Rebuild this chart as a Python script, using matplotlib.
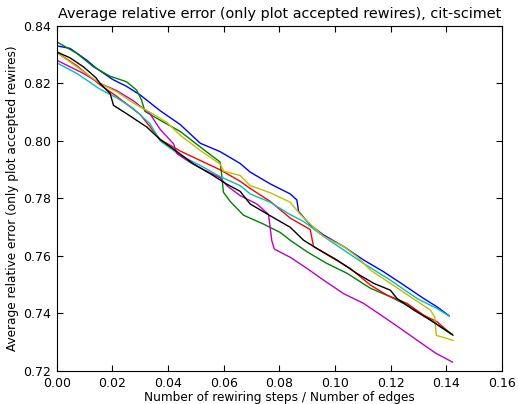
import matplotlib

matplotlib.use("Agg")
import matplotlib.pyplot as plt
from matplotlib.ticker import FormatStrFormatter

# readings from the reference (x = rewiring steps / edges, y = avg relative error)
blue_x = [0.0, 0.0048, 0.0108, 0.0141, 0.0201, 0.0251, 0.0300, 0.0372, 0.0444, 0.0516,
          0.0587, 0.0659, 0.0695, 0.0767, 0.0839, 0.0863, 0.0869, 0.0911, 0.0959, 0.1031,
          0.1103, 0.1175, 0.1247, 0.1319, 0.1367, 0.141]
blue_y = [0.8331, 0.8322, 0.8281, 0.8254, 0.8214, 0.8190, 0.8160, 0.8105, 0.8057, 0.7992,
          0.7963, 0.7922, 0.7892, 0.7851, 0.7816, 0.7795, 0.7755, 0.7708, 0.7673, 0.7633,
          0.7586, 0.7545, 0.7499, 0.7452, 0.7423, 0.7392]

green_x = [0.0, 0.0072, 0.0132, 0.0192, 0.0251, 0.0287, 0.0305, 0.0317, 0.0372, 0.0444,
           0.0516, 0.0587, 0.0593, 0.0599, 0.0623, 0.0671, 0.0743, 0.0803, 0.0840, 0.0899,
           0.0971, 0.1043, 0.1127, 0.1199, 0.1271, 0.1343, 0.1424]
green_y = [0.8345, 0.8305, 0.8258, 0.8225, 0.8206, 0.8177, 0.8142, 0.8103, 0.8072, 0.8033,
           0.7979, 0.7927, 0.7880, 0.7822, 0.7790, 0.7742, 0.7711, 0.7682, 0.7654, 0.7615,
           0.7574, 0.7540, 0.7488, 0.7458, 0.7423, 0.7377, 0.7324]

red_x = [0.0, 0.0072, 0.0156, 0.0216, 0.0300, 0.0372, 0.0444, 0.0516, 0.0587, 0.0659,
         0.0695, 0.0767, 0.0839, 0.0911, 0.0923, 0.0983, 0.1055, 0.1127, 0.1187, 0.1259,
         0.1319, 0.1367, 0.1412]
red_y = [0.8308, 0.8262, 0.8195, 0.8155, 0.8092, 0.8005, 0.7965, 0.7932, 0.7900, 0.7860,
         0.7835, 0.7790, 0.7732, 0.7692, 0.7633, 0.7598, 0.7557, 0.7499, 0.7464, 0.7435,
         0.7394, 0.7371, 0.7333]

cyan_x = [0.0, 0.0072, 0.0156, 0.0216, 0.0275, 0.0335, 0.0372, 0.0444, 0.0516, 0.0587,
          0.0659, 0.0695, 0.0767, 0.0839, 0.0887, 0.0959, 0.1031, 0.1103, 0.1199, 0.1295,
          0.1367, 0.141]
cyan_y = [0.8272, 0.8235, 0.8180, 0.8150, 0.8113, 0.8060, 0.8000, 0.7950, 0.7915, 0.7876,
          0.7845, 0.7816, 0.7787, 0.7744, 0.7720, 0.7668, 0.7621, 0.7574, 0.7516, 0.7452,
          0.7417, 0.7391]

magenta_x = [0.0, 0.0048, 0.0096, 0.0156, 0.0216, 0.0275, 0.0335, 0.0372, 0.0420, 0.0432,
             0.0480, 0.0528, 0.0587, 0.0611, 0.0659, 0.0719, 0.0761, 0.0773, 0.0782, 0.0840,
             0.0899, 0.0959, 0.1031, 0.1103, 0.1175, 0.1235, 0.1295, 0.1362, 0.1422]
magenta_y = [0.8281, 0.8258, 0.8235, 0.8200, 0.8175, 0.8140, 0.8095, 0.8040, 0.7990, 0.7956,
             0.7925, 0.7900, 0.7872, 0.7845, 0.7810, 0.7781, 0.7745, 0.7653, 0.7624, 0.7595,
             0.7557, 0.7516, 0.7469, 0.7435, 0.7388, 0.7348, 0.7307, 0.7262, 0.7231]

yellow_x = [0.0, 0.0072, 0.0156, 0.0216, 0.0275, 0.0335, 0.0395, 0.0444, 0.0516, 0.0587,
            0.0600, 0.0659, 0.0695, 0.0767, 0.0839, 0.0875, 0.0911, 0.0959, 0.1031, 0.1079,
            0.1127, 0.1199, 0.1271, 0.1343, 0.1358, 0.1364, 0.1403, 0.1424]
yellow_y = [0.8308, 0.8258, 0.8200, 0.8171, 0.8132, 0.8100, 0.8065, 0.8020, 0.7967, 0.7920,
            0.7895, 0.7880, 0.7845, 0.7820, 0.7787, 0.7745, 0.7711, 0.7668, 0.7633, 0.7598,
            0.7551, 0.7505, 0.7458, 0.7412, 0.7388, 0.7324, 0.7313, 0.7306]

black_x = [0.0, 0.0048, 0.0096, 0.0141, 0.0156, 0.0192, 0.0204, 0.0251, 0.0323, 0.0372,
           0.0432, 0.0492, 0.0552, 0.0611, 0.0659, 0.0695, 0.0767, 0.0839, 0.0887, 0.0935,
           0.1007, 0.1079, 0.1139, 0.1199, 0.1223, 0.1283, 0.1343, 0.1422]
black_y = [0.8310, 0.8289, 0.8258, 0.8220, 0.8200, 0.8165, 0.8124, 0.8095, 0.8049, 0.8005,
           0.7963, 0.7920, 0.7886, 0.7850, 0.7825, 0.7781, 0.7740, 0.7700, 0.7655, 0.7626,
           0.7586, 0.7539, 0.7505, 0.7481, 0.7452, 0.7412, 0.7377, 0.7327]

series = [
  (blue_x, blue_y, "b"),
  (green_x, green_y, "g"),
  (red_x, red_y, "r"),
  (cyan_x, cyan_y, "c"),
  (magenta_x, magenta_y, "m"),
  (yellow_x, yellow_y, "y"),
  (black_x, black_y, "k"),
]

plt.rcParams["font.family"] = "DejaVu Sans"

fig = plt.figure(figsize=(5.18, 4.04), dpi=100, facecolor="white")
ax = fig.add_axes([0.1095, 0.0817, 0.8595, 0.854])

for xs, ys, color in series:
  ax.plot(xs, ys, color=color, linewidth=1.0)

ax.set_xlim(0.0, 0.16)
ax.set_ylim(0.72, 0.84)
ax.set_xticks([0.0, 0.02, 0.04, 0.06, 0.08, 0.10, 0.12, 0.14, 0.16])
ax.set_yticks([0.72, 0.74, 0.76, 0.78, 0.80, 0.82, 0.84])
ax.xaxis.set_major_formatter(FormatStrFormatter("%.2f"))
ax.yaxis.set_major_formatter(FormatStrFormatter("%.2f"))
ax.tick_params(direction="in", top=True, right=True, length=4, labelsize=9, pad=4)

ax.set_xlabel("Number of rewiring steps / Number of edges", fontsize=8.7, labelpad=1)
ax.set_ylabel("Average relative error (only plot accepted rewires)", fontsize=8.7, labelpad=3)
ax.set_title("Average relative error (only plot accepted rewires), cit-scimet", fontsize=10.4)

fig.savefig("out.png", dpi=100, facecolor="white")
